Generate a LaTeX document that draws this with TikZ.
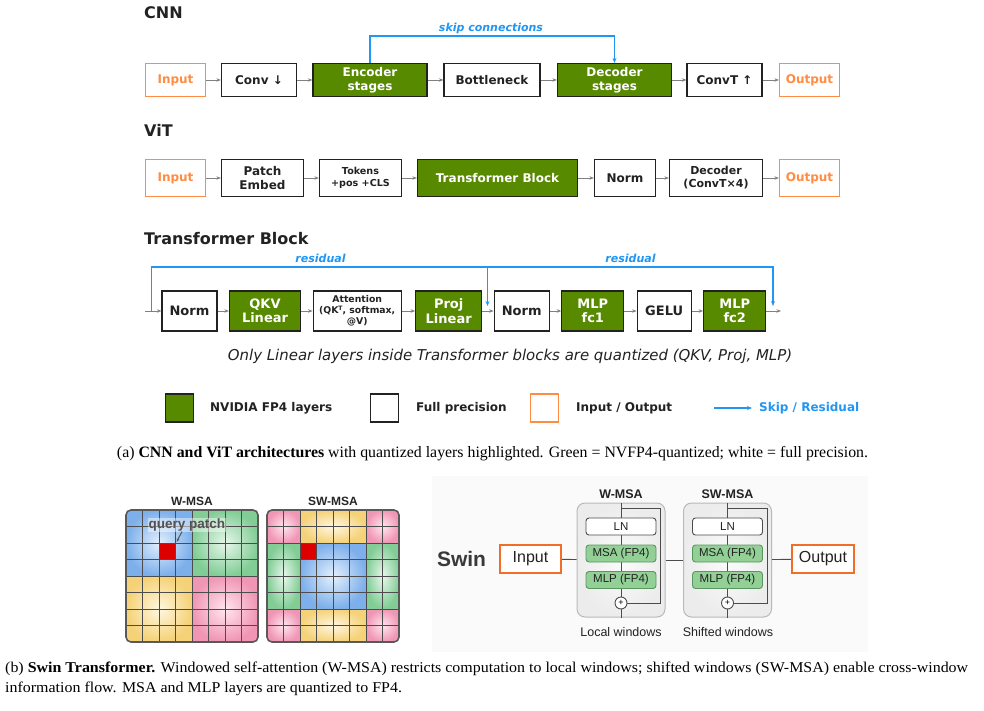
\documentclass[tikz,border=0pt]{standalone}
\usepackage{fontspec}
\usepackage{graphicx}
\setmainfont{Liberation Serif}
\newfontfamily\djv{DejaVu Sans}
\newfontfamily\lsans{Liberation Sans}
\usetikzlibrary{arrows.meta,calc}
\definecolor{nvg}{RGB}{88,138,0}
\definecolor{org}{RGB}{255,140,66}
\definecolor{skipb}{RGB}{33,150,243}
\definecolor{boxtxt}{RGB}{34,34,34}
\definecolor{swg}{RGB}{146,208,150}
\definecolor{swgd}{RGB}{90,150,95}
\definecolor{swo}{RGB}{240,110,40}
\definecolor{blueO}{RGB}{125,175,235}
\definecolor{blueI}{RGB}{228,240,252}
\definecolor{greenO}{RGB}{130,205,150}
\definecolor{greenI}{RGB}{232,247,236}
\definecolor{yelO}{RGB}{245,210,120}
\definecolor{yelI}{RGB}{255,247,225}
\definecolor{pinkO}{RGB}{240,150,180}
\definecolor{pinkI}{RGB}{255,230,240}
\definecolor{panelbg}{RGB}{250,250,250}
\newlength\capbw
\newcommand\capblineA{(b) \textbf{Swin Transformer.} Windowed self-attention (W-MSA) restricts computation to local windows; shifted windows (SW-MSA) enable cross-window}
\tikzset{
 lay/.style={draw=boxtxt, line width=1.2pt, fill=white, text=boxtxt, align=center, inner sep=1pt,
   font=\djv\bfseries\fontsize{12}{13.5}\selectfont},
 fp4/.style={lay, fill=nvg, text=white},
 iobox/.style={lay, draw=org, text=org},
 tbf/.style={font=\djv\bfseries\fontsize{13}{14.5}\selectfont},
 flow/.style={draw=gray, line width=0.8pt, -{Stealth[length=4.5pt,width=3.5pt]}},
 skipln/.style={draw=skipb, line width=1.1pt, -{Stealth[length=5pt,width=4pt]}},
 ttl/.style={font=\djv\bfseries\fontsize{16}{18}\selectfont, text=boxtxt, anchor=west, inner sep=0},
 sklbl/.style={font=\djv\bfseries\itshape\fontsize{11}{12}\selectfont, text=skipb, inner sep=0},
 lgtxt/.style={font=\djv\bfseries\fontsize{12}{13}\selectfont, text=boxtxt, anchor=west, inner sep=0},
 gridln/.style={draw=gray!60!black, line width=0.7pt},
 gridbd/.style={draw=gray!70!black, line width=1.6pt, rounded corners=5pt},
 glbl/.style={font=\lsans\bfseries\fontsize{12}{13}\selectfont, text=gray!30!black, inner sep=0},
 swblk/.style={draw=gray!55, line width=1pt, rounded corners=8pt, inner color=gray!3, outer color=gray!15,
   minimum width=88pt, minimum height=114pt},
 lnbox/.style={draw=gray!60!black, line width=0.9pt, fill=white, rounded corners=3pt, minimum width=70pt,
   minimum height=17pt, inner sep=0, font=\lsans\fontsize{11.5}{12}\selectfont, text=boxtxt},
 fpbox/.style={lnbox, draw=swgd, fill=swg},
 addc/.style={circle, draw=gray!60!black, line width=0.9pt, fill=white, minimum size=12pt, inner sep=0,
   font=\lsans\fontsize{9}{9}\selectfont},
 swline/.style={draw=gray!60!black, line width=0.9pt},
 swio/.style={draw=swo, line width=2.4pt, fill=white, minimum width=61pt, minimum height=28pt,
   font=\lsans\fontsize{16}{18}\selectfont, text=boxtxt},
 swlbl/.style={font=\lsans\fontsize{12.5}{14}\selectfont, text=boxtxt, inner sep=0},
}
\begin{document}
\settowidth\capbw{\fontsize{15}{18}\selectfont\capblineA}
\pgfmathsetmacro\capsc{963/\capbw}
\begin{tikzpicture}[x=1pt,y=-1pt]
\useasboundingbox (0,0) rectangle (984,711);
\fill[white] (0,0) rectangle (984,711);

% ---------------- CNN ----------------
\node[ttl] (tcnn) at (144,13) {CNN};
\begin{scope}[every node/.append style={minimum height=33pt}]
\node[iobox, minimum width=60pt] (cin) at (175.5,80) {Input};
\node[lay, minimum width=75pt] (conv) at (259,80) {Conv ↓};
\node[fp4, minimum width=114pt] (enc) at (370,80) {Encoder\\stages};
\node[lay, minimum width=96pt] (bot) at (492,80) {Bottleneck};
\node[fp4, minimum width=114pt] (dec) at (614.5,80) {Decoder\\stages};
\node[lay, minimum width=75pt] (convt) at (724.5,80) {ConvT ↑};
\node[iobox, minimum width=60pt] (cout) at (809.5,80) {Output};
\end{scope}
\draw[flow] (cin) -- (conv);
\draw[flow] (conv) -- (enc);
\draw[flow] (enc) -- (bot);
\draw[flow] (bot) -- (dec);
\draw[flow] (dec) -- (convt);
\draw[flow] (convt) -- (cout);
\coordinate (skiptop) at (0,36);
\draw[skipln] (enc.north) -- (enc.north |- skiptop) -| (dec.north);
\node[sklbl] (sklab) at (491,28) {skip connections};

% ---------------- ViT ----------------
\node[ttl] (tvit) at (144,130) {ViT};
\begin{scope}[every node/.append style={minimum height=37pt}]
\node[iobox, minimum width=60pt] (vin) at (175.5,178) {Input};
\node[lay, minimum width=82pt] (patch) at (262.5,178) {Patch\\Embed};
\node[lay, minimum width=82pt, font=\djv\bfseries\fontsize{9.6}{11.5}\selectfont] (tok) at (360.5,178) {Tokens\\+pos +CLS};
\node[fp4, minimum width=160pt] (tb) at (497.5,178) {Transformer Block};
\node[lay, minimum width=61pt] (vnorm) at (625,178) {Norm};
\node[lay, minimum width=93pt, font=\djv\bfseries\fontsize{11}{13}\selectfont] (vdec) at (716,178) {Decoder\\(ConvT×4)};
\node[iobox, minimum width=60pt] (vout) at (809.5,178) {Output};
\end{scope}
\draw[flow] (vin) -- (patch);
\draw[flow] (patch) -- (tok);
\draw[flow] (tok) -- (tb);
\draw[flow] (tb) -- (vnorm);
\draw[flow] (vnorm) -- (vdec);
\draw[flow] (vdec) -- (vout);

% ---------------- Transformer Block ----------------
\node[ttl] (ttb) at (144,239) {Transformer Block};
\begin{scope}[every node/.append style={minimum height=40pt}]
\node[lay, tbf, minimum width=55pt] (n1) at (189.5,311) {Norm};
\node[fp4, tbf, minimum width=71pt] (qkv) at (265,311) {QKV\\Linear};
\node[lay, minimum width=88pt, font=\djv\bfseries\fontsize{9.3}{11}\selectfont] (att) at (357.2,311) {Attention\\(QK\raisebox{0.7ex}{\fontsize{6}{6}\selectfont T}, softmax,\\@V)};
\node[fp4, tbf, minimum width=66pt] (proj) at (448.7,311) {Proj\\Linear};
\node[lay, tbf, minimum width=55pt] (n2) at (521.7,311) {Norm};
\node[fp4, tbf, minimum width=62pt] (fc1) at (592.8,311) {MLP\\fc1};
\node[lay, tbf, minimum width=54pt] (gelu) at (664.2,311) {GELU};
\node[fp4, tbf, minimum width=62pt] (fc2) at (734.7,311) {MLP\\fc2};
\end{scope}
\coordinate (tin) at (145,311);
\coordinate (tout) at (781,311);
\draw[flow] (tin) -- (n1);
\draw[flow] (n1) -- (qkv);
\draw[flow] (qkv) -- (att);
\draw[flow] (att) -- (proj);
\draw[flow] (proj) -- (n2);
\draw[flow] (n2) -- (fc1);
\draw[flow] (fc1) -- (gelu);
\draw[flow] (gelu) -- (fc2);
\draw[flow] (fc2) -- (tout);
\coordinate (r0) at (151.5,311);
\coordinate (rt) at (0,267);
\coordinate (rm) at (487.5,267);
\coordinate (rmd) at (487.5,306);
\coordinate (rr) at (773,267);
\coordinate (rrd) at (773,306);
\draw[skipln] (r0) -- (r0 |- rt) -- (rm) -- (rmd);
\draw[skipln] (rm) -- (rr) -- (rrd);
\node[sklbl] (res1) at (320.5,258) {residual};
\node[sklbl] (res2) at (630.5,258) {residual};
\node[inner sep=0, text=boxtxt] (note) at (510,356)
  {\resizebox{564pt}{!}{\djv\itshape\fontsize{13}{15}\selectfont Only Linear layers inside Transformer blocks are quantized (QKV, Proj, MLP)}};

% ---------------- Legend ----------------
\node[fp4, minimum size=28pt, inner sep=0] (lg1) at (179.5,408) {};
\node[lgtxt] (lgt1) at (210,408) {NVIDIA FP4 layers};
\node[lay, minimum size=28pt, inner sep=0] (lg2) at (384.5,408) {};
\node[lgtxt] (lgt2) at (416,408) {Full precision};
\node[iobox, minimum size=28pt, inner sep=0] (lg3) at (544.5,408) {};
\node[lgtxt] (lgt3) at (576,408) {Input / Output};
\coordinate (lga) at (714,408);
\coordinate (lgb) at (752,408);
\draw[skipln] (lga) -- (lgb);
\node[lgtxt, text=skipb] (lgt4) at (759,408) {Skip / Residual};

% caption (a)
\node[inner sep=0, anchor=center] (capa) at (492.5,454)
  {\resizebox{751pt}{!}{\fontsize{13}{15}\selectfont (a) \textbf{CNN and ViT architectures} with quantized layers highlighted. Green = NVFP4-quantized; white = full precision.}};

% ---------------- Window grids ----------------
\node[glbl] (lw) at (192,501) {W-MSA};
\node[glbl] (lsw) at (333,501) {SW-MSA};
\begin{scope}
\clip[rounded corners=5pt] (126,510) rectangle (258,642);
\shade[inner color=blueI, outer color=blueO] (126,510) rectangle (192,576);
\shade[inner color=greenI, outer color=greenO] (192,510) rectangle (258,576);
\shade[inner color=yelI, outer color=yelO] (126,576) rectangle (192,642);
\shade[inner color=pinkI, outer color=pinkO] (192,576) rectangle (258,642);
\node[fill={rgb,255:red,220;green,0;blue,0}, minimum size=16.5pt, inner sep=0] (qcell) at (167.25,551.25) {};
\foreach \i in {1,...,7} {
  \draw[gridln] ({126+16.5*\i},510) -- ({126+16.5*\i},642);
  \draw[gridln] (126,{510+16.5*\i}) -- (258,{510+16.5*\i});
}
\end{scope}
\draw[gridbd] (126,510) rectangle (258,642);
\node[font=\lsans\bfseries\fontsize{13.5}{14}\selectfont, text=gray!65!black, fill=white, fill opacity=0.45, text opacity=1, inner sep=1pt] (qp) at (187,525) {query patch};
\draw[gray!65!black, line width=1pt, -{Stealth[length=3.5pt,width=3pt]}] ([xshift=-5pt,yshift=1pt]qp.south) -- ([xshift=1pt,yshift=1pt]qcell.north east);

\begin{scope}
\clip[rounded corners=5pt] (267,510) rectangle (399,642);
\shade[inner color=pinkI, outer color=pinkO] (267,510) rectangle (300,543);
\shade[inner color=yelI, outer color=yelO] (300,510) rectangle (366,543);
\shade[inner color=pinkI, outer color=pinkO] (366,510) rectangle (399,543);
\shade[inner color=greenI, outer color=greenO] (267,543) rectangle (300,609);
\shade[inner color=blueI, outer color=blueO] (300,543) rectangle (366,609);
\shade[inner color=greenI, outer color=greenO] (366,543) rectangle (399,609);
\shade[inner color=pinkI, outer color=pinkO] (267,609) rectangle (300,642);
\shade[inner color=yelI, outer color=yelO] (300,609) rectangle (366,642);
\shade[inner color=pinkI, outer color=pinkO] (366,609) rectangle (399,642);
\node[fill={rgb,255:red,220;green,0;blue,0}, minimum size=16.5pt, inner sep=0] (scell) at (308.25,551.25) {};
\foreach \i in {1,...,7} {
  \draw[gridln] ({267+16.5*\i},510) -- ({267+16.5*\i},642);
  \draw[gridln] (267,{510+16.5*\i}) -- (399,{510+16.5*\i});
}
\end{scope}
\draw[gridbd] (267,510) rectangle (399,642);

% ---------------- Swin panel ----------------
\fill[panelbg] (432,476) rectangle (868,652);
\node[font=\lsans\bfseries\fontsize{21}{22}\selectfont, text=gray!45!black, inner sep=0] (swin) at (461.5,559) {Swin};
\node[swio] (sin) at (530.5,559) {Input};
\node[swio, minimum width=62pt] (sout) at (823,559) {Output};

\node[swblk] (wblk) at (621,560) {};
\node[swblk] (sblk) at (727.5,560) {};
\node[font=\lsans\bfseries\fontsize{12.5}{14}\selectfont, text=boxtxt, inner sep=0] (wlab) at (621,494) {W-MSA};
\node[font=\lsans\bfseries\fontsize{12.5}{14}\selectfont, text=boxtxt, inner sep=0] (slab) at (727.5,494) {SW-MSA};
\node[swlbl] (wcap) at (621,632) {Local windows};
\node[swlbl] (scap) at (728,632) {Shifted windows};

% W-MSA block internals
\coordinate (wr1) at (621,508);
\coordinate (wr2) at (660,508);
\coordinate (wr3) at (660,603);
\draw[swline] (wblk.north) -- (wblk.south);
\draw[swline] (wr1) -- (wr2) -- (wr3) -- (621,603);
\node[lnbox] (wln) at (621,526.5) {LN};
\node[fpbox] (wmsa) at (621,553.5) {MSA (FP4)};
\node[fpbox] (wmlp) at (621,580) {MLP (FP4)};
\node[addc] (wadd) at (621,603) {+};

% SW-MSA block internals
\coordinate (sr1) at (727.5,508);
\coordinate (sr2) at (767,508);
\coordinate (sr3) at (767,603);
\draw[swline] (sblk.north) -- (sblk.south);
\draw[swline] (sr1) -- (sr2) -- (sr3) -- (727.5,603);
\node[lnbox] (sln) at (727.5,526.5) {LN};
\node[fpbox] (smsa) at (727.5,553.5) {MSA (FP4)};
\node[fpbox] (smlp) at (727.5,580) {MLP (FP4)};
\node[addc] (sadd) at (727.5,603) {+};

\draw[swline] (sin) -- (wblk);
\draw[swline] (wblk) -- (sblk);
\draw[swline] (sblk) -- (sout);

% caption (b)
\node[anchor=base west, inner sep=0] (capb1) at (5,672)
  {\scalebox{\capsc}[1]{\fontsize{15}{18}\selectfont\capblineA}};
\node[anchor=base west, inner sep=0] (capb2) at (5,692)
  {\scalebox{\capsc}[1]{\fontsize{15}{18}\selectfont information flow. MSA and MLP layers are quantized to FP4.}};
\end{tikzpicture}
\end{document}
